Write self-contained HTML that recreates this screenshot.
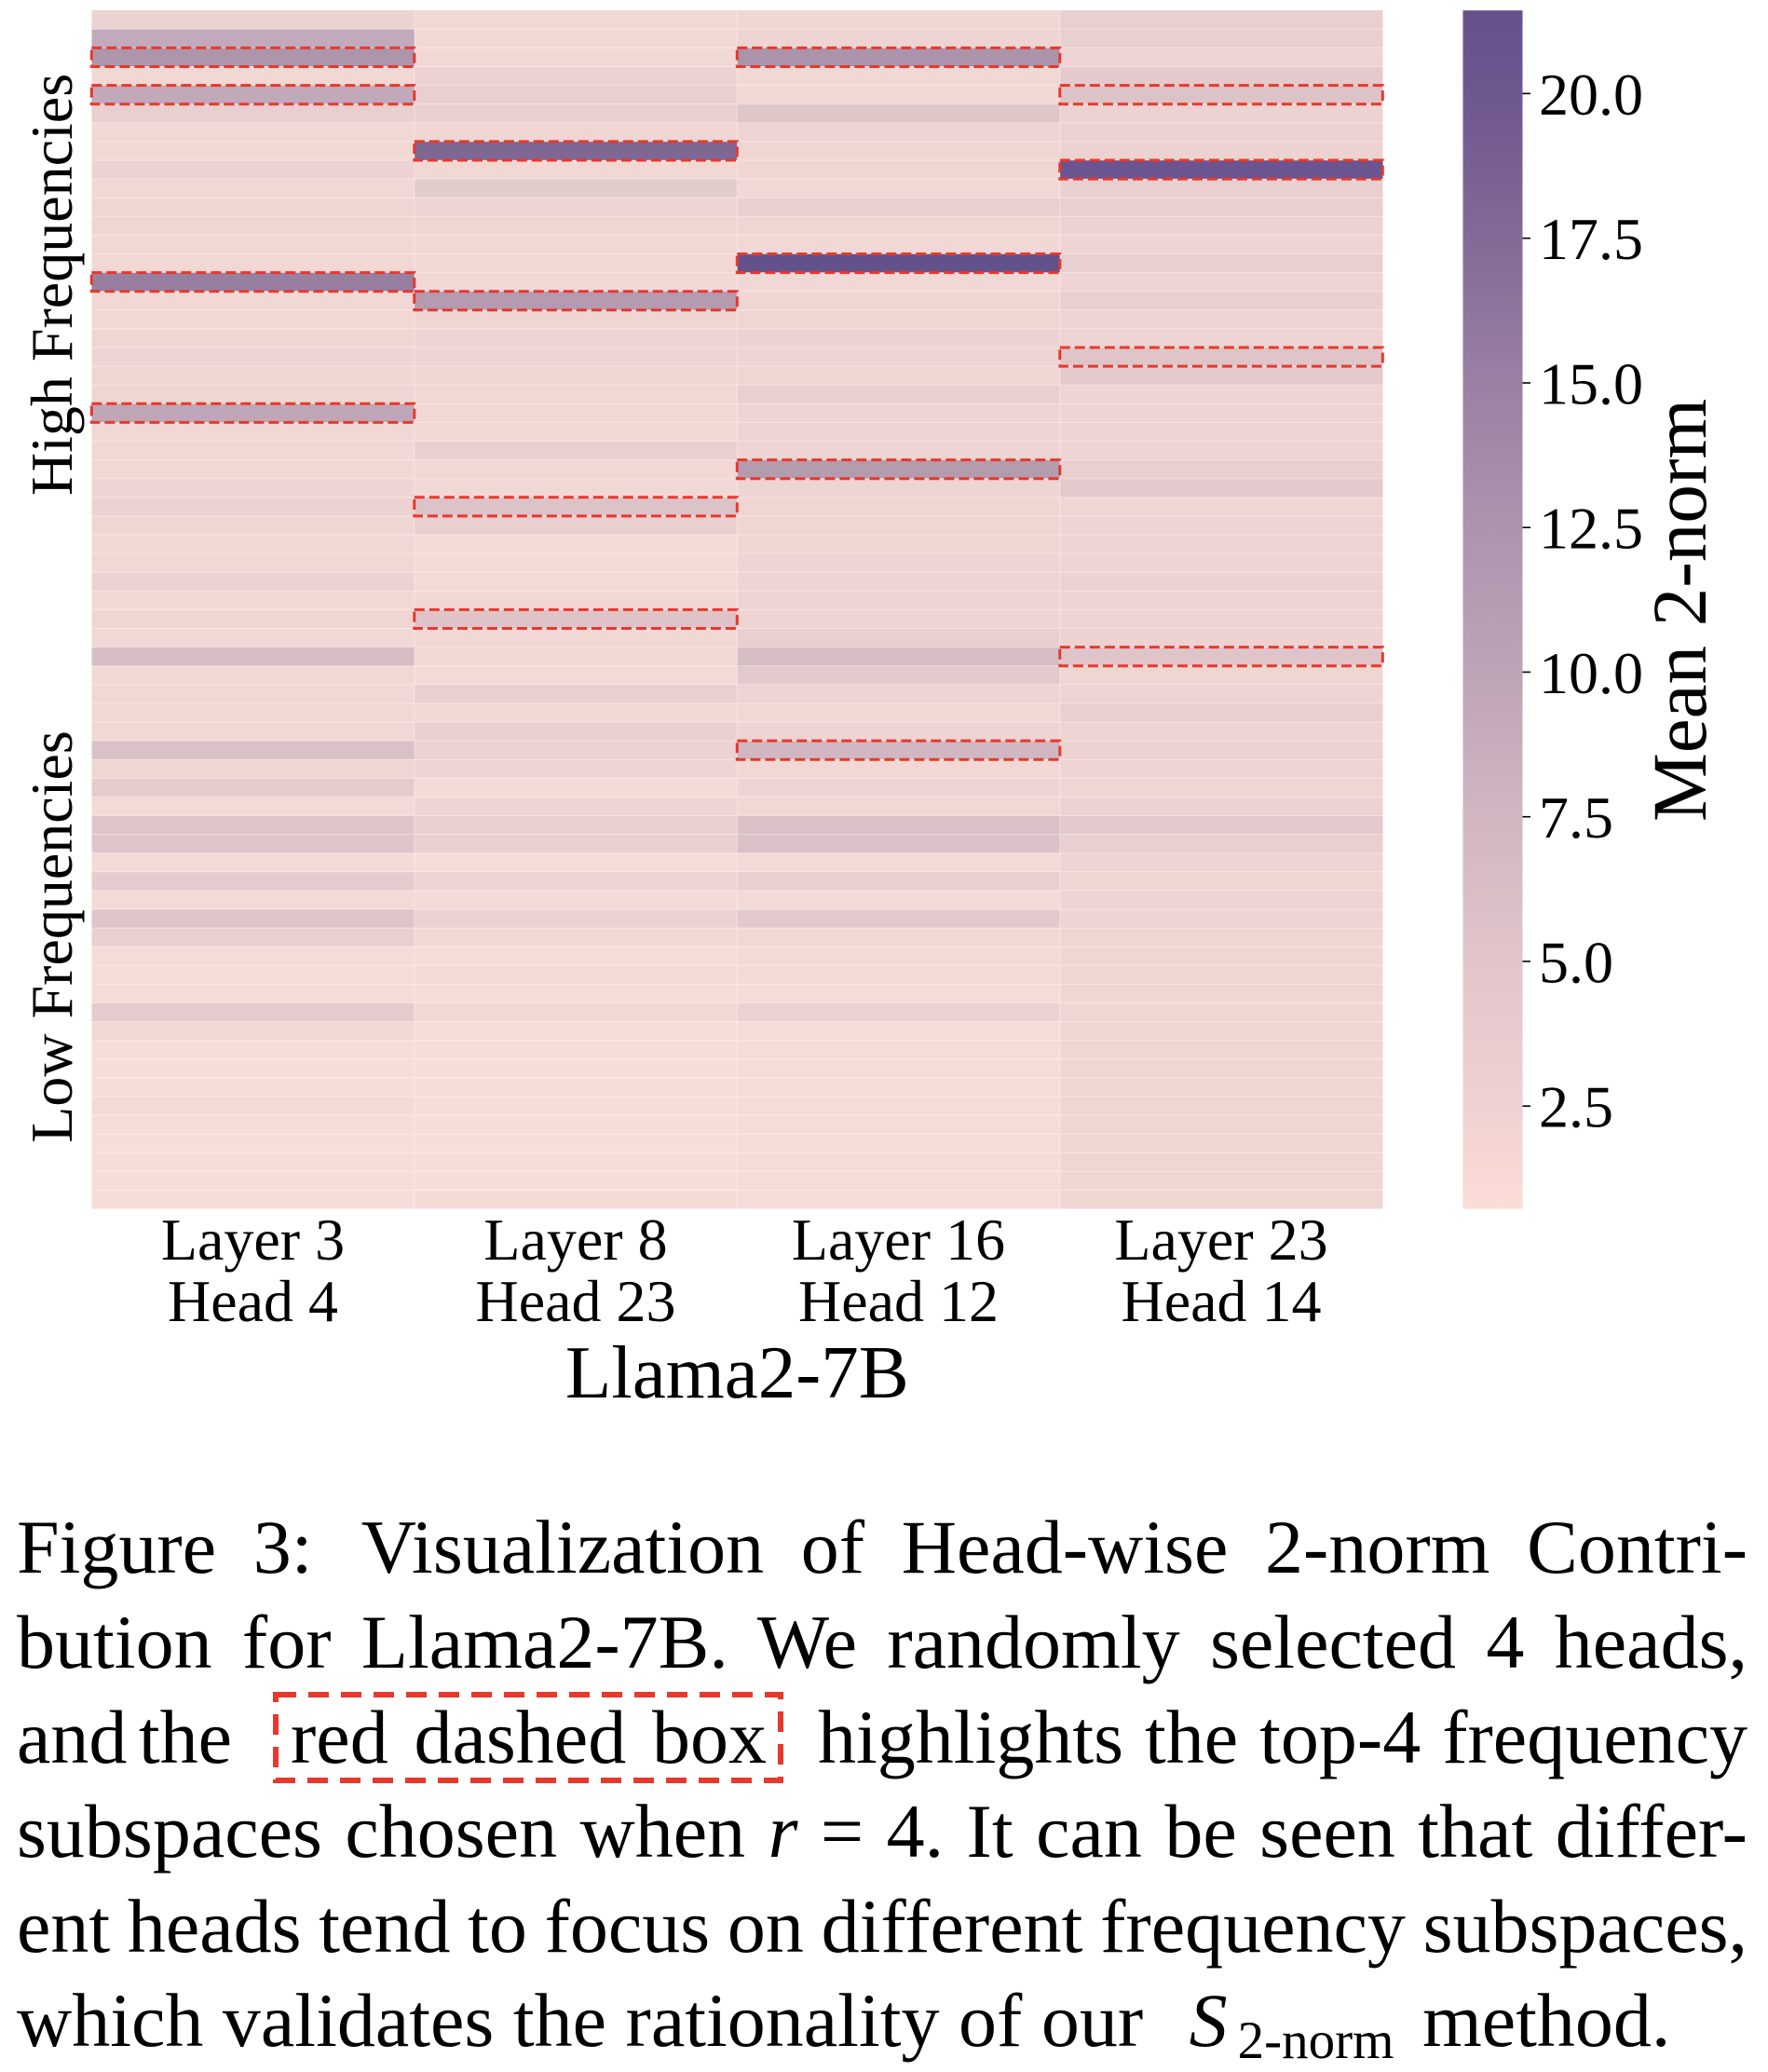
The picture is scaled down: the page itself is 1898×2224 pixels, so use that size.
<!DOCTYPE html>
<html>
<head>
<meta charset="utf-8">
<style>
  html,body{margin:0;padding:0;background:#fff;}
  body{width:1898px;height:2224px;position:relative;overflow:hidden;}
  svg{position:absolute;left:0;top:0;}
  .cap{position:absolute;font-family:"Liberation Serif","DejaVu Serif",serif;font-size:82px;line-height:82px;color:#000;}
  .j{text-align:justify;text-align-last:justify;word-spacing:-4px;}
</style>
</head>
<body>
<svg width="1898" height="1560" viewBox="0 0 1898 1560" xmlns="http://www.w3.org/2000/svg">
  <defs>
    <linearGradient id="cb" x1="0" y1="0" x2="0" y2="1">
      <stop offset="0" stop-color="#67518b"/>
      <stop offset="0.069" stop-color="#6e578f"/>
      <stop offset="0.190" stop-color="#826a98"/>
      <stop offset="0.311" stop-color="#9a80a3"/>
      <stop offset="0.431" stop-color="#ad94ae"/>
      <stop offset="0.552" stop-color="#bea4b8"/>
      <stop offset="0.673" stop-color="#d1b6c2"/>
      <stop offset="0.793" stop-color="#e1c5ca"/>
      <stop offset="0.914" stop-color="#efd1d1"/>
      <stop offset="1" stop-color="#fcdcd7"/>
    </linearGradient>
  </defs>

  <!-- heatmap cells: unit grid scaled to cell size -->
  <g transform="translate(98.3 11.2) scale(346.5 20.1)" shape-rendering="crispEdges">
    <!-- Column 1: Layer 3 Head 4 -->
    <rect x="0" y="0" width="1" height="1" fill="#ecd2d1"/>
    <rect x="0" y="1" width="1" height="1" fill="#c2a9bb"/>
    <rect x="0" y="2" width="1" height="1" fill="#ad95ac"/>
    <rect x="0" y="3" width="1" height="1" fill="#f2d8d5"/>
    <rect x="0" y="4" width="1" height="1" fill="#c1a9bb"/>
    <rect x="0" y="5" width="1" height="1" fill="#e9cfd0"/>
    <rect x="0" y="6" width="1" height="2" fill="#f2d8d5"/>
    <rect x="0" y="8" width="1" height="1" fill="#ecd2d1"/>
    <rect x="0" y="9" width="1" height="1" fill="#f2d8d5"/>
    <rect x="0" y="10" width="1" height="2" fill="#f0d6d3"/>
    <rect x="0" y="12" width="1" height="2" fill="#f2d8d5"/>
    <rect x="0" y="14" width="1" height="1" fill="#97809f"/>
    <rect x="0" y="15" width="1" height="2" fill="#f2d8d5"/>
    <rect x="0" y="17" width="1" height="1" fill="#f0d6d3"/>
    <rect x="0" y="18" width="1" height="1" fill="#eed4d2"/>
    <rect x="0" y="19" width="1" height="2" fill="#f0d6d3"/>
    <rect x="0" y="21" width="1" height="1" fill="#bfa7b9"/>
    <rect x="0" y="22" width="1" height="3" fill="#f2d8d5"/>
    <rect x="0" y="25" width="1" height="1" fill="#eed4d2"/>
    <rect x="0" y="26" width="1" height="1" fill="#ecd2d1"/>
    <rect x="0" y="27" width="1" height="1" fill="#f0d6d3"/>
    <rect x="0" y="28" width="1" height="2" fill="#f2d8d5"/>
    <rect x="0" y="30" width="1" height="1" fill="#ecd2d1"/>
    <rect x="0" y="31" width="1" height="1" fill="#f2d8d5"/>
    <rect x="0" y="32" width="1" height="1" fill="#f0d6d3"/>
    <rect x="0" y="33" width="1" height="1" fill="#f2d8d5"/>
    <rect x="0" y="34" width="1" height="1" fill="#d6bdc4"/>
    <rect x="0" y="35" width="1" height="4" fill="#f2d8d5"/>
    <rect x="0" y="39" width="1" height="1" fill="#dac1c7"/>
    <rect x="0" y="40" width="1" height="1" fill="#f0d6d3"/>
    <rect x="0" y="41" width="1" height="1" fill="#e5cbcd"/>
    <rect x="0" y="42" width="1" height="1" fill="#f4dad7"/>
    <rect x="0" y="43" width="1" height="2" fill="#dfc5c9"/>
    <rect x="0" y="45" width="1" height="1" fill="#f4dad7"/>
    <rect x="0" y="46" width="1" height="1" fill="#e5cbcd"/>
    <rect x="0" y="47" width="1" height="1" fill="#f4dad7"/>
    <rect x="0" y="48" width="1" height="1" fill="#dfc5c9"/>
    <rect x="0" y="49" width="1" height="1" fill="#e9cfd0"/>
    <rect x="0" y="50" width="1" height="3" fill="#f6dcd8"/>
    <rect x="0" y="53" width="1" height="1" fill="#e5cbcd"/>
    <rect x="0" y="54" width="1" height="1" fill="#f2d8d5"/>
    <rect x="0" y="55" width="1" height="3" fill="#f7ddd9"/>
    <rect x="0" y="58" width="1" height="1" fill="#f4dad7"/>
    <rect x="0" y="59" width="1" height="5" fill="#f7ddd9"/>

    <!-- Column 2: Layer 8 Head 23 -->
    <rect x="1" y="0" width="1" height="3" fill="#f2d8d5"/>
    <rect x="1" y="3" width="1" height="1" fill="#ecd2d1"/>
    <rect x="1" y="4" width="1" height="2" fill="#e9cfd0"/>
    <rect x="1" y="6" width="1" height="1" fill="#f0d6d3"/>
    <rect x="1" y="7" width="1" height="1" fill="#7e6793"/>
    <rect x="1" y="8" width="1" height="1" fill="#f2d8d5"/>
    <rect x="1" y="9" width="1" height="1" fill="#e2cbcc"/>
    <rect x="1" y="10" width="1" height="1" fill="#eed4d2"/>
    <rect x="1" y="11" width="1" height="1" fill="#f0d6d3"/>
    <rect x="1" y="12" width="1" height="3" fill="#f2d8d5"/>
    <rect x="1" y="15" width="1" height="1" fill="#b49bb0"/>
    <rect x="1" y="16" width="1" height="1" fill="#f0d6d3"/>
    <rect x="1" y="17" width="1" height="2" fill="#eed4d2"/>
    <rect x="1" y="19" width="1" height="1" fill="#f0d6d3"/>
    <rect x="1" y="20" width="1" height="3" fill="#f2d8d5"/>
    <rect x="1" y="23" width="1" height="1" fill="#e9cfd0"/>
    <rect x="1" y="24" width="1" height="2" fill="#f2d8d5"/>
    <rect x="1" y="26" width="1" height="1" fill="#dcc3c8"/>
    <rect x="1" y="27" width="1" height="1" fill="#e9cfd0"/>
    <rect x="1" y="28" width="1" height="3" fill="#f4dad7"/>
    <rect x="1" y="31" width="1" height="1" fill="#f2d8d5"/>
    <rect x="1" y="32" width="1" height="1" fill="#dec4c9"/>
    <rect x="1" y="33" width="1" height="2" fill="#f2d8d5"/>
    <rect x="1" y="35" width="1" height="1" fill="#f4dad7"/>
    <rect x="1" y="36" width="1" height="1" fill="#e9cfd0"/>
    <rect x="1" y="37" width="1" height="1" fill="#f2d8d5"/>
    <rect x="1" y="38" width="1" height="1" fill="#e9cfd0"/>
    <rect x="1" y="39" width="1" height="1" fill="#ecd2d1"/>
    <rect x="1" y="40" width="1" height="1" fill="#eed4d2"/>
    <rect x="1" y="41" width="1" height="1" fill="#f4dad7"/>
    <rect x="1" y="42" width="1" height="1" fill="#eed4d2"/>
    <rect x="1" y="43" width="1" height="2" fill="#e9cfd0"/>
    <rect x="1" y="45" width="1" height="1" fill="#f6dcd8"/>
    <rect x="1" y="46" width="1" height="1" fill="#eed4d2"/>
    <rect x="1" y="47" width="1" height="1" fill="#f4dad7"/>
    <rect x="1" y="48" width="1" height="1" fill="#ecd2d1"/>
    <rect x="1" y="49" width="1" height="1" fill="#f2d8d5"/>
    <rect x="1" y="50" width="1" height="1" fill="#f6dcd8"/>
    <rect x="1" y="51" width="1" height="1" fill="#f4dad7"/>
    <rect x="1" y="52" width="1" height="1" fill="#f6dcd8"/>
    <rect x="1" y="53" width="1" height="1" fill="#f2d8d5"/>
    <rect x="1" y="54" width="1" height="9" fill="#f7ddd9"/>
    <rect x="1" y="63" width="1" height="1" fill="#f4dad7"/>

    <!-- Column 3: Layer 16 Head 12 -->
    <rect x="2" y="0" width="1" height="1" fill="#f1d7d4"/>
    <rect x="2" y="1" width="1" height="1" fill="#eed4d2"/>
    <rect x="2" y="2" width="1" height="1" fill="#ab93ab"/>
    <rect x="2" y="3" width="1" height="2" fill="#f2d8d5"/>
    <rect x="2" y="5" width="1" height="1" fill="#dfc6c9"/>
    <rect x="2" y="6" width="1" height="1" fill="#eed4d2"/>
    <rect x="2" y="7" width="1" height="2" fill="#f0d6d3"/>
    <rect x="2" y="9" width="1" height="1" fill="#f2d8d5"/>
    <rect x="2" y="10" width="1" height="1" fill="#e9cfd0"/>
    <rect x="2" y="11" width="1" height="1" fill="#f0d6d3"/>
    <rect x="2" y="12" width="1" height="1" fill="#f2d8d5"/>
    <rect x="2" y="13" width="1" height="1" fill="#63518b"/>
    <rect x="2" y="14" width="1" height="1" fill="#f2d8d5"/>
    <rect x="2" y="15" width="1" height="2" fill="#f0d6d3"/>
    <rect x="2" y="17" width="1" height="1" fill="#ecd2d1"/>
    <rect x="2" y="18" width="1" height="1" fill="#eed4d2"/>
    <rect x="2" y="19" width="1" height="1" fill="#f0d6d3"/>
    <rect x="2" y="20" width="1" height="1" fill="#e9cfd0"/>
    <rect x="2" y="21" width="1" height="3" fill="#eed4d2"/>
    <rect x="2" y="24" width="1" height="1" fill="#b49caf"/>
    <rect x="2" y="25" width="1" height="1" fill="#eed4d2"/>
    <rect x="2" y="26" width="1" height="3" fill="#f0d6d3"/>
    <rect x="2" y="29" width="1" height="4" fill="#eed4d2"/>
    <rect x="2" y="33" width="1" height="1" fill="#e9cfd0"/>
    <rect x="2" y="34" width="1" height="1" fill="#d6bdc4"/>
    <rect x="2" y="35" width="1" height="1" fill="#e2c9cc"/>
    <rect x="2" y="36" width="1" height="1" fill="#eed4d2"/>
    <rect x="2" y="37" width="1" height="1" fill="#f2d8d5"/>
    <rect x="2" y="38" width="1" height="1" fill="#eed4d2"/>
    <rect x="2" y="39" width="1" height="1" fill="#d0b7c1"/>
    <rect x="2" y="40" width="1" height="1" fill="#f2d8d5"/>
    <rect x="2" y="41" width="1" height="1" fill="#eed4d2"/>
    <rect x="2" y="42" width="1" height="1" fill="#f2d8d5"/>
    <rect x="2" y="43" width="1" height="2" fill="#dbc1c7"/>
    <rect x="2" y="45" width="1" height="1" fill="#f4dad7"/>
    <rect x="2" y="46" width="1" height="1" fill="#e9cfd0"/>
    <rect x="2" y="47" width="1" height="1" fill="#f4dad7"/>
    <rect x="2" y="48" width="1" height="1" fill="#e2c9cc"/>
    <rect x="2" y="49" width="1" height="1" fill="#f2d8d5"/>
    <rect x="2" y="50" width="1" height="2" fill="#f4dad7"/>
    <rect x="2" y="52" width="1" height="1" fill="#f6dcd8"/>
    <rect x="2" y="53" width="1" height="1" fill="#ecd2d1"/>
    <rect x="2" y="54" width="1" height="10" fill="#f6dcd8"/>

    <!-- Column 4: Layer 23 Head 14 -->
    <rect x="3" y="0" width="1" height="2" fill="#e9cfcf"/>
    <rect x="3" y="2" width="1" height="1" fill="#eed4d2"/>
    <rect x="3" y="3" width="1" height="1" fill="#e5cacd"/>
    <rect x="3" y="4" width="1" height="1" fill="#dcc3c8"/>
    <rect x="3" y="5" width="1" height="3" fill="#ecd2d1"/>
    <rect x="3" y="8" width="1" height="1" fill="#6a5590"/>
    <rect x="3" y="9" width="1" height="2" fill="#e9cfd0"/>
    <rect x="3" y="11" width="1" height="1" fill="#ecd2d1"/>
    <rect x="3" y="12" width="1" height="1" fill="#eed4d2"/>
    <rect x="3" y="13" width="1" height="1" fill="#e9cfd0"/>
    <rect x="3" y="14" width="1" height="1" fill="#eed4d2"/>
    <rect x="3" y="15" width="1" height="1" fill="#e9cfd0"/>
    <rect x="3" y="16" width="1" height="2" fill="#eed4d2"/>
    <rect x="3" y="18" width="1" height="1" fill="#dfc4c8"/>
    <rect x="3" y="19" width="1" height="1" fill="#e5cacd"/>
    <rect x="3" y="20" width="1" height="4" fill="#eed4d2"/>
    <rect x="3" y="24" width="1" height="1" fill="#e9cfd0"/>
    <rect x="3" y="25" width="1" height="1" fill="#e2c9cc"/>
    <rect x="3" y="26" width="1" height="1" fill="#f0d6d3"/>
    <rect x="3" y="27" width="1" height="3" fill="#eed4d2"/>
    <rect x="3" y="30" width="1" height="1" fill="#ecd2d1"/>
    <rect x="3" y="31" width="1" height="2" fill="#eed4d2"/>
    <rect x="3" y="33" width="1" height="1" fill="#ecd2d1"/>
    <rect x="3" y="34" width="1" height="1" fill="#dfc5c9"/>
    <rect x="3" y="35" width="1" height="1" fill="#f0d6d3"/>
    <rect x="3" y="36" width="1" height="1" fill="#eed4d2"/>
    <rect x="3" y="37" width="1" height="1" fill="#e9cfd0"/>
    <rect x="3" y="38" width="1" height="1" fill="#eed4d2"/>
    <rect x="3" y="39" width="1" height="1" fill="#ecd2d1"/>
    <rect x="3" y="40" width="1" height="1" fill="#eed4d2"/>
    <rect x="3" y="41" width="1" height="1" fill="#f0d6d3"/>
    <rect x="3" y="42" width="1" height="1" fill="#ecd2d1"/>
    <rect x="3" y="43" width="1" height="1" fill="#e2c9cc"/>
    <rect x="3" y="44" width="1" height="1" fill="#e9cfd0"/>
    <rect x="3" y="45" width="1" height="1" fill="#eed4d2"/>
    <rect x="3" y="46" width="1" height="1" fill="#f0d6d3"/>
    <rect x="3" y="47" width="1" height="2" fill="#eed4d2"/>
    <rect x="3" y="49" width="1" height="15" fill="#f0d6d3"/>
  </g>

  <!-- faint cell separators -->
  <path stroke="#ffffff" stroke-opacity="0.4" stroke-width="1" fill="none" d="
M98.3 31.3H1484.3M98.3 51.4H1484.3M98.3 71.5H1484.3M98.3 91.6H1484.3M98.3 111.7H1484.3M98.3 131.8H1484.3M98.3 151.9H1484.3M98.3 172H1484.3
M98.3 192.1H1484.3M98.3 212.2H1484.3M98.3 232.3H1484.3M98.3 252.4H1484.3M98.3 272.5H1484.3M98.3 292.6H1484.3M98.3 312.7H1484.3M98.3 332.8H1484.3
M98.3 352.9H1484.3M98.3 373H1484.3M98.3 393.1H1484.3M98.3 413.2H1484.3M98.3 433.3H1484.3M98.3 453.4H1484.3M98.3 473.5H1484.3M98.3 493.6H1484.3
M98.3 513.7H1484.3M98.3 533.8H1484.3M98.3 553.9H1484.3M98.3 574H1484.3M98.3 594.1H1484.3M98.3 614.2H1484.3M98.3 634.3H1484.3M98.3 654.4H1484.3
M98.3 674.5H1484.3M98.3 694.6H1484.3M98.3 714.7H1484.3M98.3 734.8H1484.3M98.3 754.9H1484.3M98.3 775H1484.3M98.3 795.1H1484.3M98.3 815.2H1484.3
M98.3 835.3H1484.3M98.3 855.4H1484.3M98.3 875.5H1484.3M98.3 895.6H1484.3M98.3 915.7H1484.3M98.3 935.8H1484.3M98.3 955.9H1484.3M98.3 976H1484.3
M98.3 996.1H1484.3M98.3 1016.2H1484.3M98.3 1036.3H1484.3M98.3 1056.4H1484.3M98.3 1076.5H1484.3M98.3 1096.6H1484.3M98.3 1116.7H1484.3M98.3 1136.8H1484.3
M98.3 1156.9H1484.3M98.3 1177H1484.3M98.3 1197.1H1484.3M98.3 1217.2H1484.3M98.3 1237.3H1484.3M98.3 1257.4H1484.3M98.3 1277.5H1484.3
M444.8 11.2V1297.6M791.3 11.2V1297.6M1137.8 11.2V1297.6"/>

  <!-- red dashed selection boxes -->
  <g fill="none" stroke="#e8382b" stroke-width="3" stroke-dasharray="11 5">
    <rect x="98.3" y="51.4" width="346.5" height="20.1"/>
    <rect x="98.3" y="91.6" width="346.5" height="20.1"/>
    <rect x="98.3" y="292.6" width="346.5" height="20.1"/>
    <rect x="98.3" y="433.3" width="346.5" height="20.1"/>
    <rect x="444.8" y="151.9" width="346.5" height="20.1"/>
    <rect x="444.8" y="312.7" width="346.5" height="20.1"/>
    <rect x="444.8" y="533.8" width="346.5" height="20.1"/>
    <rect x="444.8" y="654.4" width="346.5" height="20.1"/>
    <rect x="791.3" y="51.4" width="346.5" height="20.1"/>
    <rect x="791.3" y="272.5" width="346.5" height="20.1"/>
    <rect x="791.3" y="493.6" width="346.5" height="20.1"/>
    <rect x="791.3" y="795.1" width="346.5" height="20.1"/>
    <rect x="1137.8" y="91.6" width="346.5" height="20.1"/>
    <rect x="1137.8" y="172" width="346.5" height="20.1"/>
    <rect x="1137.8" y="373" width="346.5" height="20.1"/>
    <rect x="1137.8" y="694.6" width="346.5" height="20.1"/>
  </g>

  <!-- colorbar -->
  <rect x="1570.5" y="11.2" width="64" height="1286.4" fill="url(#cb)"/>
  <g stroke="#000" stroke-width="1.6">
    <line x1="1634.5" y1="100.4" x2="1643" y2="100.4"/>
    <line x1="1634.5" y1="255.7" x2="1643" y2="255.7"/>
    <line x1="1634.5" y1="411" x2="1643" y2="411"/>
    <line x1="1634.5" y1="566.2" x2="1643" y2="566.2"/>
    <line x1="1634.5" y1="721.4" x2="1643" y2="721.4"/>
    <line x1="1634.5" y1="876.7" x2="1643" y2="876.7"/>
    <line x1="1634.5" y1="1031.9" x2="1643" y2="1031.9"/>
    <line x1="1634.5" y1="1187.2" x2="1643" y2="1187.2"/>
  </g>
  <g font-family="Liberation Serif, DejaVu Serif, serif" font-size="64" fill="#000">
    <text x="1652" y="122.9">20.0</text>
    <text x="1652" y="278.2">17.5</text>
    <text x="1652" y="433.5">15.0</text>
    <text x="1652" y="588.7">12.5</text>
    <text x="1652" y="743.9">10.0</text>
    <text x="1652" y="899.2">7.5</text>
    <text x="1652" y="1054.4">5.0</text>
    <text x="1652" y="1209.7">2.5</text>
  </g>
  <text font-family="Liberation Serif, DejaVu Serif, serif" font-size="83" fill="#000" text-anchor="middle" transform="translate(1831 655) rotate(-90)">Mean 2-norm</text>

  <!-- y labels -->
  <g font-family="Liberation Serif, DejaVu Serif, serif" font-size="64" fill="#000" text-anchor="middle">
    <text transform="translate(77 305.5) rotate(-90)">High Frequencies</text>
    <text transform="translate(77 1005.5) rotate(-90)">Low Frequencies</text>
  </g>

  <!-- x tick labels -->
  <g font-family="Liberation Serif, DejaVu Serif, serif" font-size="64" fill="#000" text-anchor="middle">
    <text x="271.5" y="1352">Layer 3</text>
    <text x="271.5" y="1418">Head 4</text>
    <text x="618" y="1352">Layer 8</text>
    <text x="618" y="1418">Head 23</text>
    <text x="964.5" y="1352">Layer 16</text>
    <text x="964.5" y="1418">Head 12</text>
    <text x="1311" y="1352">Layer 23</text>
    <text x="1311" y="1418">Head 14</text>
  </g>
  <text x="791.3" y="1500" font-family="Liberation Serif, DejaVu Serif, serif" font-size="81" fill="#000" text-anchor="middle">Llama2-7B</text>
</svg>

<!-- caption -->
<div class="cap j" style="left:18px;width:1858px;top:1620.3px;">Figure 3:<span style="display:inline-block;width:14px"></span> Visualization of Head-wise 2-norm Contri-</div>
<div class="cap j" style="left:18px;width:1858px;top:1721.9px;">bution for Llama2-7B. We randomly selected 4 heads,</div>

<div class="cap" style="left:18px;top:1823.5px;white-space:nowrap;word-spacing:-8px;">and the</div>
<div class="cap j" style="left:312px;width:511px;top:1823.5px;">red dashed box</div>
<div class="cap j" style="left:878px;width:998px;top:1823.5px;">highlights the top-4 frequency</div>
<svg width="1898" height="2224" viewBox="0 0 1898 2224" style="pointer-events:none">
  <rect x="296" y="1819" width="542" height="92" fill="none" stroke="#e8382b" stroke-width="6" stroke-dasharray="22 13"/>
</svg>

<div class="cap j" style="left:18px;width:1858px;top:1925.1px;">subspaces chosen when <i>r</i> = 4. It can be seen that differ-</div>
<div class="cap j" style="left:18px;width:1858px;top:2026.7px;">ent heads tend to focus on different frequency subspaces,</div>
<div class="cap" style="left:18px;top:2128.3px;white-space:nowrap;">which validates the rationality of our <i style="margin-left:29px">S</i><span style="font-size:57px;position:relative;top:13px;margin-left:11px;margin-right:10px">2-norm</span> method.</div>
</body>
</html>
